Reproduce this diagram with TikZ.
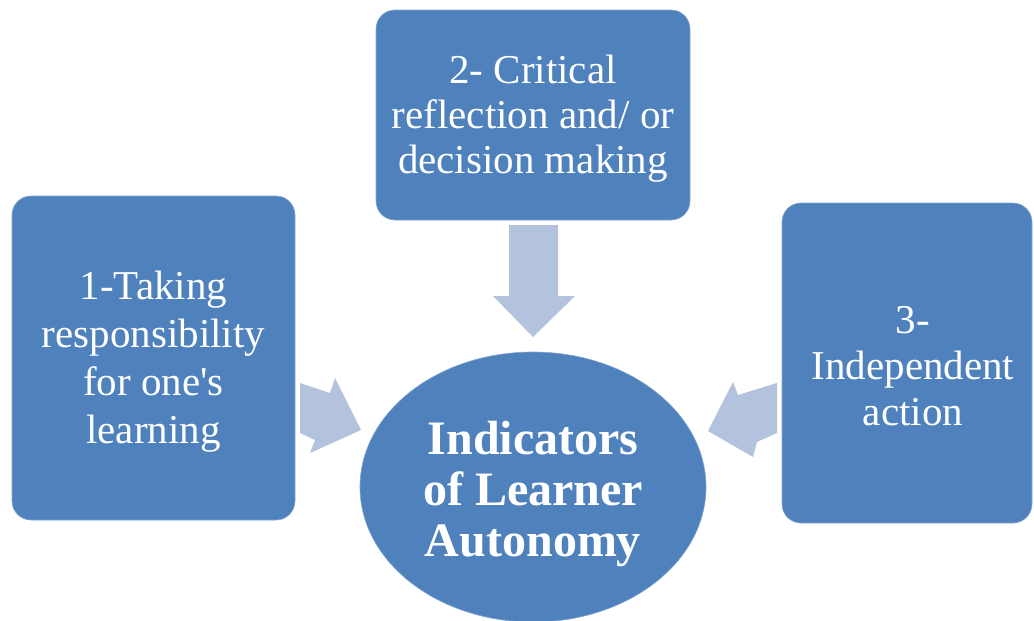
\documentclass[tikz,border=0pt]{standalone}
\usepackage{fontspec}
\setmainfont{Liberation Serif}[Ligatures=TeXOff]
\usetikzlibrary{shapes.geometric}
\definecolor{boxblue}{HTML}{4F81BD}
\definecolor{arrowblue}{HTML}{B3C3DE}
\begin{document}
\begin{tikzpicture}[x=1pt,y=-1pt,
  boxstyle/.style={fill=boxblue,draw=boxblue!70!white,line width=0.6pt,rounded corners=19pt,inner sep=0pt},
  boxtext/.style={text=white,align=center,inner sep=0pt,font=\fontsize{41}{47}\selectfont},
  hubstyle/.style={ellipse,fill=boxblue,draw=boxblue!70!white,line width=0.6pt,inner sep=0pt},
  hubtext/.style={text=white,align=center,inner sep=0pt,font=\fontsize{48}{51}\selectfont\bfseries},
  blockarrow/.style={fill=arrowblue,draw=none}]
\useasboundingbox (0,0) rectangle (1034,621);
\begin{scope}
\clip (0,0) rectangle (1034,621);
\node[boxstyle,minimum width=283pt,minimum height=324pt] (b1) at (153.5,358) {};
\node[boxtext,font=\fontsize{41}{48}\selectfont] (t1) at (153.5,362) {1-Taking\\responsibility\\for one's\\learning};
\node[boxstyle,minimum width=314pt,minimum height=210pt] (b2) at (533,115) {};
\node[boxtext,font=\fontsize{41}{45}\selectfont] (t2) at (533,119) {2- Critical\\reflection and/ or\\decision making};
\node[boxstyle,minimum width=250pt,minimum height=320pt] (b3) at (907,363) {};
\node[boxtext,font=\fontsize{41}{46}\selectfont] (t3) at (913,366) {3-\\Independent\\action};
\node[hubstyle,minimum width=346pt,minimum height=270pt] (hub) at (533,487) {};
\node[hubtext] (th) at (533,494) {Indicators\\of Learner\\Autonomy};
\fill[blockarrow] (300,383) -- (330,393) -- (335,378) -- (361,430) -- (310,453) -- (315,440) -- (300,433) -- cycle;
\fill[blockarrow] (777,383) -- (738,395) -- (733,382) -- (708,431) -- (753,457) -- (757,442) -- (777,433) -- cycle;
\fill[blockarrow] (509,225) -- (558,225) -- (558,296) -- (575,296) -- (533,337) -- (493,296) -- (509,296) -- cycle;
\end{scope}
\end{tikzpicture}
\end{document}
